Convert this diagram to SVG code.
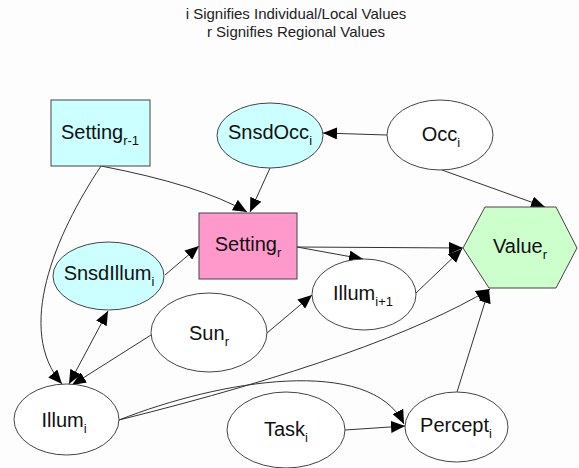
<svg xmlns="http://www.w3.org/2000/svg" width="579" height="468" viewBox="0 0 579 468">
<style>
.node{stroke:#444;stroke-width:1}
.lbl{font-family:"Liberation Sans",Arial,sans-serif;font-size:20px;fill:#111;text-anchor:middle}
.sub{font-size:13px}
.title{font-family:"Liberation Sans",Arial,sans-serif;font-size:15px;fill:#222;text-anchor:middle}
.edge{fill:none;stroke:#333;stroke-width:1}
</style>
<defs>
<marker id="arr" markerUnits="userSpaceOnUse" markerWidth="14" markerHeight="12" viewBox="0 0 14 12" refX="14" refY="6" orient="auto-start-reverse">
<path d="M0,0 L14,6 L0,12 Z" fill="#000"/>
</marker>
</defs>
<rect width="579" height="468" fill="#fdfdfd"/>
<text class="title" x="296" y="19">i Signifies Individual/Local Values</text>
<text class="title" x="296" y="37">r Signifies Regional Values</text>

<g id="connectors">
<path class="edge" d="M387,135 L323,133" marker-end="url(#arr)"/>
<path class="edge" d="M442,170 L545,207" marker-end="url(#arr)"/>
<path class="edge" d="M270,168 L250,212" marker-end="url(#arr)"/>
<path class="edge" d="M101,166 Q200,185 247,212" marker-end="url(#arr)"/>
<path class="edge" d="M101,166 C55,235 15,330 62,384" marker-end="url(#arr)"/>
<path class="edge" d="M165,275 L199,246" marker-end="url(#arr)"/>
<path class="edge" d="M108,311 L69,384" marker-start="url(#arr)" marker-end="url(#arr)"/>
<path class="edge" d="M151,335 L72,385" marker-end="url(#arr)"/>
<path class="edge" d="M267,333 L312,295" marker-end="url(#arr)"/>
<path class="edge" d="M297,247 L363,259" marker-end="url(#arr)"/>
<path class="edge" d="M297,247 L463,248" marker-end="url(#arr)"/>
<path class="edge" d="M416,293 L462,249" marker-end="url(#arr)"/>
<path class="edge" d="M119,420 Q380,355 490,289" marker-end="url(#arr)"/>
<path class="edge" d="M119,420 C220,380 370,355 404,424" marker-end="url(#arr)"/>
<path class="edge" d="M345,430 L405,426" marker-end="url(#arr)"/>
<path class="edge" d="M457,392 L489,289" marker-end="url(#arr)"/>
</g>

<g id="setting_r-1">
<rect class="node" x="51" y="100" width="99" height="66" fill="#ccffff"/>
<text class="lbl" x="100" y="139">Setting<tspan class="sub" dy="6">r-1</tspan></text>
</g>
<g id="snsdocc_i">
<ellipse class="node" cx="270" cy="135.5" rx="53" ry="32.5" fill="#ccffff"/>
<text class="lbl" x="270" y="139">SnsdOcc<tspan class="sub" dy="6">i</tspan></text>
</g>
<g id="occ_i">
<ellipse class="node" cx="440" cy="135" rx="53" ry="35" fill="#ffffff"/>
<text class="lbl" x="441" y="141">Occ<tspan class="sub" dy="6">i</tspan></text>
</g>
<g id="setting_r">
<rect class="node" x="199" y="213" width="98" height="66" fill="#ff99cc"/>
<text class="lbl" x="248" y="251">Setting<tspan class="sub" dy="6">r</tspan></text>
</g>
<g id="snsdillum_i">
<ellipse class="node" cx="108.5" cy="276" rx="55.5" ry="34" fill="#ccffff"/>
<text class="lbl" x="109" y="280">SnsdIllum<tspan class="sub" dy="6">i</tspan></text>
</g>
<g id="value_r">
<polygon class="node" points="463,248 485,207 556,207 577,248 556,288 489,288" fill="#ccffcc"/>
<text class="lbl" x="520" y="253">Value<tspan class="sub" dy="6">r</tspan></text>
</g>
<g id="illum_i+1">
<ellipse class="node" cx="364" cy="294.5" rx="52" ry="35.5" fill="#ffffff"/>
<text class="lbl" x="363" y="300">Illum<tspan class="sub" dy="6">i+1</tspan></text>
</g>
<g id="sun_r">
<ellipse class="node" cx="209" cy="332.5" rx="58" ry="39.5" fill="#ffffff"/>
<text class="lbl" x="209" y="340">Sun<tspan class="sub" dy="6">r</tspan></text>
</g>
<g id="illum_i">
<ellipse class="node" cx="66.5" cy="419.5" rx="52.5" ry="35.5" fill="#ffffff"/>
<text class="lbl" x="64" y="427">Illum<tspan class="sub" dy="6">i</tspan></text>
</g>
<g id="task_i">
<ellipse class="node" cx="286" cy="430" rx="59" ry="38" fill="#ffffff"/>
<text class="lbl" x="286" y="436">Task<tspan class="sub" dy="6">i</tspan></text>
</g>
<g id="percept_i">
<ellipse class="node" cx="456.5" cy="427" rx="51.5" ry="35" fill="#ffffff"/>
<text class="lbl" x="456" y="432">Percept<tspan class="sub" dy="6">i</tspan></text>
</g>
</svg>
